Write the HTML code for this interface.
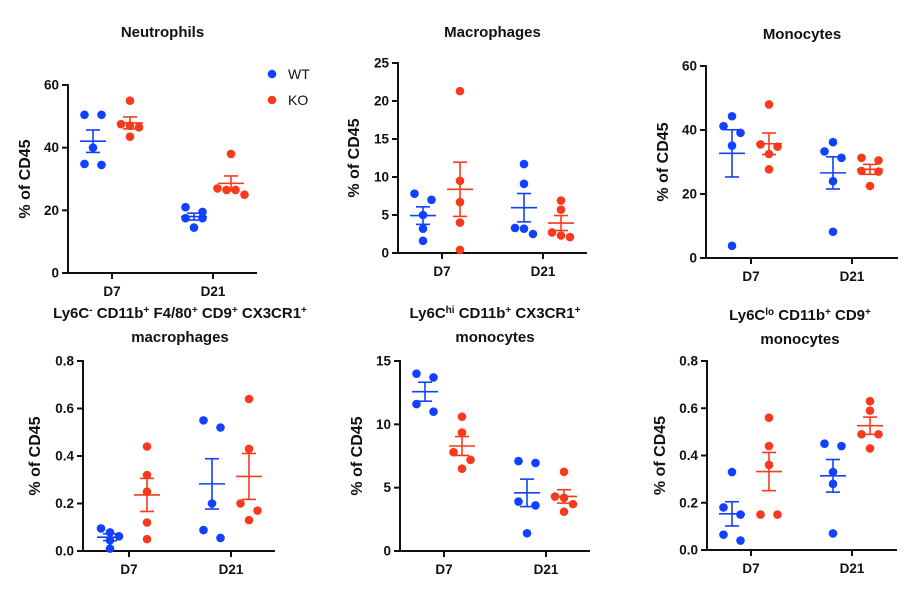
<!DOCTYPE html>
<html><head><meta charset="utf-8"><style>
html,body{margin:0;padding:0;background:#fff;}
svg{display:block;font-family:"Liberation Sans",Arial,sans-serif;}
.t{font-weight:bold;font-size:15px;fill:#111;text-anchor:middle;}
.tk{font-weight:bold;font-size:13.5px;fill:#111;}
</style></head><body>
<svg id="fig" width="923" height="604" viewBox="0 0 923 604" xmlns="http://www.w3.org/2000/svg">
<g>
<circle cx="272" cy="74" r="4.3" fill="#1240ff"/>
<text x="288" y="79" font-size="14" fill="#111">WT</text>
<circle cx="272" cy="100" r="4.3" fill="#f83a1c"/>
<text x="288" y="105" font-size="14" fill="#111">KO</text>
</g>
</svg>
<script>
const groups = ["D7","D21"];
// values per panel: [WT D7, KO D7, WT D21, KO D21]
const neutrophilsData = [[50.5,50.5,40,34.5,34.8],[55,47.5,47,46.5,43.5],[19.5,21,17.5,17.5,14.5],[38,27,25,26.5,26.5]];
const macrophagesData = [[7.8,7.0,5.0,3.2,1.6],[21.3,9.5,6.7,4.0,0.4],[11.7,9.1,3.3,3.2,2.5],[6.9,5.7,2.7,2.3,2.1]];
const monocytesData = [[44.3,41.2,39.1,35.1,3.8],[48,35.5,34.8,32.5,27.7],[36.2,33.3,31.3,24,8.2],[31.3,30.5,27.2,27,22.5]];
const ly6cNegData = [[0.095,0.078,0.062,0.045,0.01],[0.44,0.32,0.25,0.12,0.05],[0.55,0.52,0.20,0.088,0.055],[0.64,0.43,0.20,0.17,0.13]];
const ly6cHiData = [[14.0,13.7,11.6,11.0],[10.6,9.35,7.8,7.2,6.5],[7.1,6.95,3.9,3.6,1.4],[6.25,4.3,4.2,3.7,3.1]];
const ly6cLoData = [[0.33,0.18,0.15,0.065,0.04],[0.56,0.44,0.36,0.15,0.15],[0.45,0.44,0.33,0.28,0.07],[0.63,0.59,0.49,0.49,0.43]];
const ticksA = [0,20,40,60];
const ticksB = [0,5,10,15,20,25];
const ticksC = [0,0.2,0.4,0.6,0.8];
const ticksD = [0,5,10,15];

const NS="http://www.w3.org/2000/svg";
const svg=document.getElementById('fig');
const BLUE="#1240ff", RED="#f83a1c";
function mk(tag,attrs,parent){const e=document.createElementNS(NS,tag);for(const k in attrs)e.setAttribute(k,attrs[k]);(parent||svg).appendChild(e);return e;}

const panels=[
 {name:"neutrophils",title:["Neutrophils"],ty:[37],data:neutrophilsData,ticks:ticksA,max:60,ax:68,y0:273,y1:85,xe:257,t1:112,t2:213,yl:30,fmt:v=>v},
 {name:"macrophages",title:["Macrophages"],ty:[37],data:macrophagesData,ticks:ticksB,max:25,ax:398,y0:253,y1:63,xe:587,t1:442,t2:543,yl:359,fmt:v=>v},
 {name:"monocytes",title:["Monocytes"],ty:[39],data:monocytesData,ticks:ticksA,max:60,ax:706,y0:258,y1:66,xe:898,t1:751,t2:852,yl:668,fmt:v=>v},
 {name:"ly6c-neg-macrophages",title:["Ly6C<tspan baseline-shift='super' font-size='10'>-</tspan> CD11b<tspan baseline-shift='super' font-size='10'>+</tspan> F4/80<tspan baseline-shift='super' font-size='10'>+</tspan> CD9<tspan baseline-shift='super' font-size='10'>+</tspan> CX3CR1<tspan baseline-shift='super' font-size='10'>+</tspan>","macrophages"],ty:[318,342],tx:180,data:ly6cNegData,ticks:ticksC,max:0.8,ax:83,y0:551,y1:361,xe:275,t1:129,t2:231,yl:40,fmt:v=>v.toFixed(1)},
 {name:"ly6c-hi-monocytes",title:["Ly6C<tspan baseline-shift='super' font-size='10'>hi</tspan> CD11b<tspan baseline-shift='super' font-size='10'>+</tspan> CX3CR1<tspan baseline-shift='super' font-size='10'>+</tspan>","monocytes"],ty:[318,342],tx:495,data:ly6cHiData,ticks:ticksD,max:15,ax:400,y0:551,y1:361,xe:590,t1:444,t2:546,yl:362,fmt:v=>v},
 {name:"ly6c-lo-monocytes",title:["Ly6C<tspan baseline-shift='super' font-size='10'>lo</tspan> CD11b<tspan baseline-shift='super' font-size='10'>+</tspan> CD9<tspan baseline-shift='super' font-size='10'>+</tspan>","monocytes"],ty:[320,344],tx:800,data:ly6cLoData,ticks:ticksC,max:0.8,ax:707,y0:550,y1:361,xe:897,t1:751,t2:852,yl:665,fmt:v=>v.toFixed(1)}
];

panels.forEach(p=>{
 const g=mk('g',{});
 
 
 const Y=v=>p.y0-(v/p.max)*(p.y0-p.y1);
 const tx=p.tx||(p.ax+p.xe)/2;
 p.title.forEach((t,i)=>{const e=mk('text',{x:tx,y:p.ty[i],class:'t'},g);e.innerHTML=t;
  
  });
 const ya=mk('line',{x1:p.ax,y1:p.y1-1,x2:p.ax,y2:p.y0+1,stroke:'#111','stroke-width':2},g);
 
 
 const xa=mk('line',{x1:p.ax-1,y1:p.y0,x2:p.xe,y2:p.y0,stroke:'#111','stroke-width':2},g);
 
 
 p.ticks.forEach(v=>{const y=Y(v);mk('line',{x1:p.ax-6,y1:y,x2:p.ax,y2:y,stroke:'#111','stroke-width':2},g);
  const t=mk('text',{x:p.ax-9,y:y+4.5,class:'tk','text-anchor':'end'},g);t.textContent=p.fmt(v);
  
  });
 [p.t1,p.t2].forEach((x,i)=>{mk('line',{x1:x,y1:p.y0,x2:x,y2:p.y0+6,stroke:'#111','stroke-width':2},g);
  const t=mk('text',{x:x,y:p.y0+23,class:'tk','text-anchor':'middle'},g);t.textContent=groups[i];
  
  });
 const yl=mk('text',{x:0,y:0,transform:`translate(${p.yl},${(p.y0+p.y1)/2}) rotate(-90)`,'text-anchor':'middle','font-weight':'bold','font-size':16,fill:'#111'},g);
 yl.textContent='% of CD45';
 
 
 p.data.forEach((vals,gi)=>{
  const tick=gi<2?p.t1:p.t2;const ko=gi%2===1;
  const cx=tick+(ko?18:-19);const col=ko?RED:BLUE;
  const n=vals.length;const mean=vals.reduce((a,b)=>a+b,0)/n;
  const sd=Math.sqrt(vals.reduce((a,b)=>a+(b-mean)*(b-mean),0)/(n-1));const sem=sd/Math.sqrt(n);
  const sorted=vals.slice().sort((a,b)=>b-a);const rows=[];
  sorted.forEach(v=>{const last=rows[rows.length-1];if(last&&Math.abs(Y(v)-Y(last[0]))<8)last.push(v);else rows.push([v]);});
  rows.forEach(r=>{const sp=r.length===2?17:9;r.forEach((v,i)=>{
   const c=mk('circle',{cx:cx+(i-(r.length-1)/2)*sp,cy:Y(v),r:4.3,fill:col},g);
   
   });});
  const eg=mk('g',{stroke:col,'stroke-width':1.6},g);
  
  
  mk('line',{x1:cx-13,y1:Y(mean),x2:cx+13,y2:Y(mean)},eg);
  mk('line',{x1:cx,y1:Y(mean-sem),x2:cx,y2:Y(mean+sem)},eg);
  mk('line',{x1:cx-7,y1:Y(mean+sem),x2:cx+7,y2:Y(mean+sem)},eg);
  mk('line',{x1:cx-7,y1:Y(mean-sem),x2:cx+7,y2:Y(mean-sem)},eg);
 });
});
</script>
</body></html>
